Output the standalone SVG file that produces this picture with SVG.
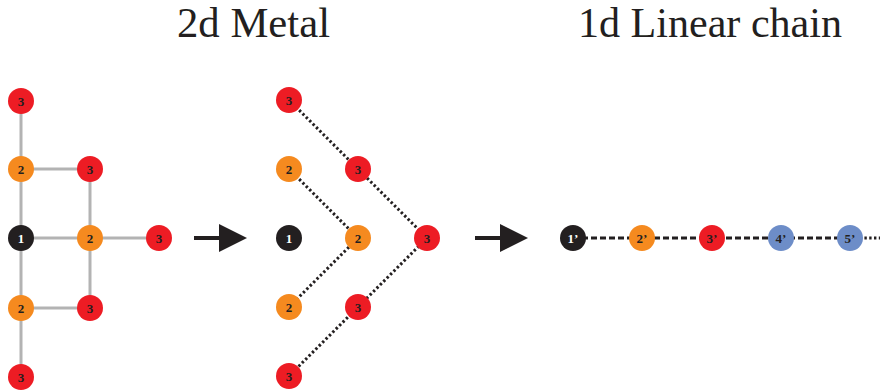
<svg xmlns="http://www.w3.org/2000/svg" width="880" height="392" viewBox="0 0 880 392">
<style>
.title{font-family:'Liberation Serif','DejaVu Serif',serif;font-size:42px;fill:#231f20}
.lbl{font-family:'Liberation Serif','DejaVu Serif',serif;font-size:13px;font-weight:bold;fill:#231f20;text-anchor:middle}
.lblw{fill:#ffffff}
.red{fill:#ed1c24}
.org{fill:#f58a1f}
.blk{fill:#231f20}
.blu{fill:#6d8dc8}
.grey{stroke:#b3b3b3;stroke-width:3;fill:none}
.dot{stroke:#231f20;stroke-width:3;stroke-dasharray:2.4 2.4;fill:none}
.dash{stroke:#231f20;stroke-width:3;stroke-dasharray:6 3;fill:none}
.arrow{fill:#231f20}
</style>
<text class="title" font-family="Liberation Serif, serif" x="177" y="37" textLength="153" lengthAdjust="spacingAndGlyphs">2d Metal</text>
<text class="title" font-family="Liberation Serif, serif" x="578" y="37" textLength="264" lengthAdjust="spacingAndGlyphs">1d Linear chain</text>
<g id="connectors">
  <line class="grey" x1="21" y1="101" x2="21" y2="377"/>
  <line class="grey" x1="21" y1="169" x2="90" y2="169"/>
  <line class="grey" x1="21" y1="238" x2="159" y2="238"/>
  <line class="grey" x1="21" y1="308" x2="90" y2="308"/>
  <line class="grey" x1="90" y1="169" x2="90" y2="308"/>
  <polyline class="dot" points="289,100 358,169 427,238 358,307 289,376"/>
  <polyline class="dot" points="289,169 358,238 289,307"/>
  <line class="dash" x1="573" y1="238" x2="850" y2="238"/>
  <line class="dot" x1="850" y1="238" x2="880" y2="238"/>
  <g id="arrow1">
    <rect class="arrow" x="194" y="236" width="27" height="4"/>
    <polygon class="arrow" points="219,224 247,238 219,252"/>
  </g>
  <g id="arrow2">
    <rect class="arrow" x="475" y="236" width="27" height="4"/>
    <polygon class="arrow" points="500,224 528,238 500,252"/>
  </g>
</g>
<g id="a-3t"><circle class="red" cx="21" cy="101" r="13"/><text class="lbl" x="21" y="105.5">3</text></g>
<g id="a-2t"><circle class="org" cx="21" cy="169" r="13"/><text class="lbl" x="21" y="173.5">2</text></g>
<g id="a-3tr"><circle class="red" cx="90" cy="169" r="13"/><text class="lbl" x="90" y="173.5">3</text></g>
<g id="a-1"><circle class="blk" cx="21" cy="238" r="13"/><text class="lbl lblw" x="21" y="242.5">1</text></g>
<g id="a-2r"><circle class="org" cx="90" cy="238" r="13"/><text class="lbl" x="90" y="242.5">2</text></g>
<g id="a-3r"><circle class="red" cx="159" cy="238" r="13"/><text class="lbl" x="159" y="242.5">3</text></g>
<g id="a-2b"><circle class="org" cx="21" cy="308" r="13"/><text class="lbl" x="21" y="312.5">2</text></g>
<g id="a-3br"><circle class="red" cx="90" cy="308" r="13"/><text class="lbl" x="90" y="312.5">3</text></g>
<g id="a-3b"><circle class="red" cx="21" cy="377" r="13"/><text class="lbl" x="21" y="381.5">3</text></g>

<g id="b-3a"><circle class="red" cx="289" cy="100" r="13"/><text class="lbl" x="289" y="104.5">3</text></g>
<g id="b-2a"><circle class="org" cx="289" cy="169" r="13"/><text class="lbl" x="289" y="173.5">2</text></g>
<g id="b-1"><circle class="blk" cx="289" cy="238" r="13"/><text class="lbl lblw" x="289" y="242.5">1</text></g>
<g id="b-2b"><circle class="org" cx="289" cy="307" r="13"/><text class="lbl" x="289" y="311.5">2</text></g>
<g id="b-3b"><circle class="red" cx="289" cy="376" r="13"/><text class="lbl" x="289" y="380.5">3</text></g>
<g id="b-3c"><circle class="red" cx="358" cy="169" r="13"/><text class="lbl" x="358" y="173.5">3</text></g>
<g id="b-2c"><circle class="org" cx="358" cy="238" r="13"/><text class="lbl" x="358" y="242.5">2</text></g>
<g id="b-3d"><circle class="red" cx="358" cy="307" r="13"/><text class="lbl" x="358" y="311.5">3</text></g>
<g id="b-3e"><circle class="red" cx="427" cy="238" r="13"/><text class="lbl" x="427" y="242.5">3</text></g>

<g id="c-1"><circle class="blk" cx="573" cy="238" r="13"/><text class="lbl lblw" x="573" y="242.5">1’</text></g>
<g id="c-2"><circle class="org" cx="642" cy="238" r="13"/><text class="lbl" x="642" y="242.5">2’</text></g>
<g id="c-3"><circle class="red" cx="712" cy="238" r="13"/><text class="lbl" x="712" y="242.5">3’</text></g>
<g id="c-4"><circle class="blu" cx="781" cy="238" r="13"/><text class="lbl" x="781" y="242.5">4’</text></g>
<g id="c-5"><circle class="blu" cx="850" cy="238" r="13"/><text class="lbl" x="850" y="242.5">5’</text></g>
</svg>
